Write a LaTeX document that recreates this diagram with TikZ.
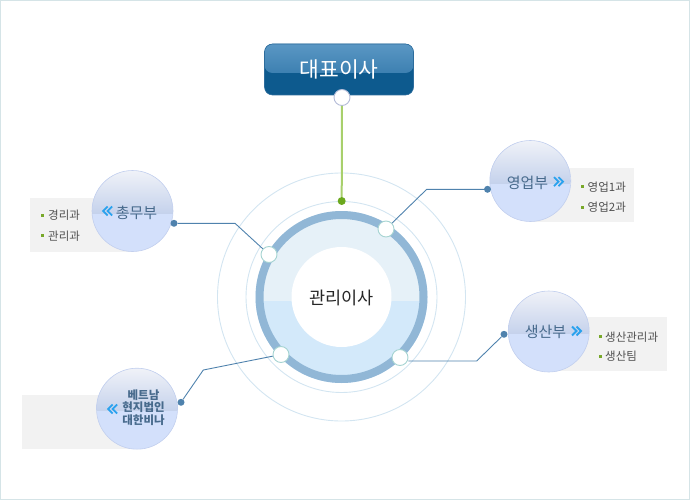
\documentclass[tikz,border=0pt]{standalone}
\usepackage{fontspec}
\setmainfont{Noto Sans CJK KR}
\definecolor{framecol}{HTML}{D5E4E7}
\definecolor{thincol}{HTML}{D3E5F1}
\definecolor{ringcol}{HTML}{91B7D6}
\definecolor{upcol}{HTML}{E6F1F8}
\definecolor{lowcol}{HTML}{D3E9FA}
\definecolor{portcol}{HTML}{A6D4D2}
\definecolor{conncol}{HTML}{4F82AD}
\definecolor{greenln}{HTML}{A8D06C}
\definecolor{greendot}{HTML}{6BA81E}
\definecolor{sphtop}{HTML}{F0F2F8}
\definecolor{sphup}{HTML}{C5D2EC}
\definecolor{sphlow}{HTML}{D3E0FB}
\definecolor{sphedge}{HTML}{C2CFEE}
\definecolor{boxgray}{HTML}{F2F2F2}
\definecolor{depttext}{HTML}{476A8C}
\definecolor{itemtext}{HTML}{505050}
\definecolor{bulletcol}{HTML}{78A82A}
\definecolor{chevcol}{HTML}{2AA2EE}
\definecolor{ceoup}{HTML}{3D80B1}
\definecolor{ceouptop}{HTML}{5A97C4}
\definecolor{ceolow}{HTML}{0D5A8E}
\definecolor{ceoedge}{HTML}{2D6C9C}
\definecolor{topport}{HTML}{B4BCD8}
\begin{document}
\begin{tikzpicture}[x=1pt,y=-1pt,
  port/.style={circle,draw=portcol,fill=white,line width=0.9pt,minimum size=16pt,inner sep=0pt},
  dotnode/.style={circle,fill=conncol,minimum size=7pt,inner sep=0pt},
  conn/.style={draw=conncol,line width=0.9pt},
  sphere/.style={circle,draw=sphedge,line width=0.6pt,minimum size=81pt,inner sep=0pt,
    path picture={
      \fill[sphlow] (path picture bounding box.south west) rectangle (path picture bounding box.north east);
      \shade[top color=sphtop,bottom color=sphup] (path picture bounding box.north west) rectangle ([yshift=-2pt]path picture bounding box.east);
    }},
  deptname/.style={text=depttext,font=\fontsize{15}{17}\selectfont,inner sep=0pt},
  item/.style={text=itemtext,font=\fontsize{11.5}{13}\selectfont,anchor=west,inner sep=0pt},
  bullet/.style={fill=bulletcol,minimum size=3pt,inner sep=0pt},
  graybox/.style={fill=boxgray},
  lchev/.pic={\draw[chevcol,line width=1.8pt] (1,-4.5) -- (-3.5,0) -- (1,4.5);
              \draw[chevcol,line width=1.8pt] (5.5,-4.5) -- (1,0) -- (5.5,4.5);},
  rchev/.pic={\draw[chevcol,line width=1.8pt] (-1,-4.5) -- (3.5,0) -- (-1,4.5);
              \draw[chevcol,line width=1.8pt] (-5.5,-4.5) -- (-1,0) -- (-5.5,4.5);}
]
\useasboundingbox (0,0) rectangle (690,500);
\draw[framecol,line width=1.2pt] (0.6,0.6) rectangle (689.4,499.4);

% central figure
\coordinate (C) at (341.5,297);
\draw[thincol,line width=0.9pt] (C) circle (124);
\draw[thincol,line width=0.9pt] (C) circle (95.5);
\begin{scope}
  \clip (C) circle (86);
  \fill[upcol] (250,205) rectangle (435,301);
  \fill[lowcol] (250,301) rectangle (435,390);
\end{scope}
\draw[ringcol,line width=8pt] (C) circle (82);
\fill[white] (C) circle (50);
\node[font=\fontsize{17.5}{19}\selectfont,text=black!85] (mgr) at (341.5,298) {관리이사};

% CEO box
\node[rounded corners=8pt,draw=ceoedge,line width=0.6pt,minimum width=149pt,minimum height=51pt,inner sep=0pt,
  path picture={
    \fill[ceolow] (path picture bounding box.south west) rectangle (path picture bounding box.north east);
    \shade[top color=ceouptop,bottom color=ceoup] (path picture bounding box.north west) rectangle ([yshift=-3.5pt]path picture bounding box.east);
  },
  text=white,font=\fontsize{21.5}{23}\selectfont] (ceo) at (339,69.5) {대표이사};
\node[port,draw=topport] (tport) at (342,97.5) {};
\node[circle,fill=greendot,minimum size=8pt,inner sep=0pt] (gdot) at (341.7,201) {};
\draw[greenln,line width=2pt] (tport) -- (gdot);

% ports on ring
\node[port] (p1) at (386,229) {};
\node[port] (p2) at (269,254.5) {};
\node[port] (p3) at (281,354.5) {};
\node[port] (p4) at (400,357.5) {};

% gray boxes
\fill[graybox] (30,198) rectangle (132,252);
\fill[graybox] (530,168) rectangle (634,222);
\fill[graybox] (549,317) rectangle (667,371);
\fill[graybox] (22,395) rectangle (137,449);

% spheres
\node[sphere] (s1) at (132.5,211) {};
\node[sphere] (s2) at (530.3,181) {};
\node[sphere] (s3) at (548.7,331.5) {};
\node[sphere] (s4) at (137,408.7) {};

% dept labels
\node[deptname] (n1) at (136.5,212.5) {총무부};
\pic at (106.7,211) {lchev};
\node[deptname] (n2) at (527.5,182.5) {영업부};
\pic at (559.5,181.7) {rchev};
\node[deptname] (n3) at (545.5,331.5) {생산부};
\pic at (577.5,331) {rchev};
\node[align=center,text=depttext,font=\bfseries\fontsize{11.5}{12.2}\selectfont,inner sep=0pt] (n4) at (143.5,407.5) {베트남\\현지법인\\대한비나};
\pic at (111.7,409) {lchev};

% items
\node[bullet] (b11) at (42,215) {};
\node[item] (i11) at (48,215.5) {경리과};
\node[bullet] (b12) at (42,235.5) {};
\node[item] (i12) at (48,236) {관리과};
\node[bullet] (b21) at (582.5,186.5) {};
\node[item] (i21) at (587.5,187) {영업1과};
\node[bullet] (b22) at (582.5,207) {};
\node[item] (i22) at (587.5,207.5) {영업2과};
\node[bullet] (b31) at (600,336.5) {};
\node[item] (i31) at (605,337) {생산관리과};
\node[bullet] (b32) at (600,356) {};
\node[item] (i32) at (605,356.5) {생산팀};

% connector dots and knees
\node[dotnode] (d1) at (487.5,189.3) {};
\node[dotnode] (d2) at (174,223.3) {};
\node[dotnode] (d3) at (181,402.3) {};
\node[dotnode] (d4) at (504,334.3) {};
\coordinate (k1) at (426.7,189.3);
\coordinate (k2) at (235,223.3);
\coordinate (k3) at (203.3,370);
\coordinate (k4) at (476.7,361);
\draw[conn] (p1) -- (k1) -- (d1);
\draw[conn] (p2) -- (k2) -- (d2);
\draw[conn] (p3) -- (k3) -- (d3);
\draw[conn] (p4.east |- k4) -- (k4) -- (d4);
\end{tikzpicture}
\end{document}
